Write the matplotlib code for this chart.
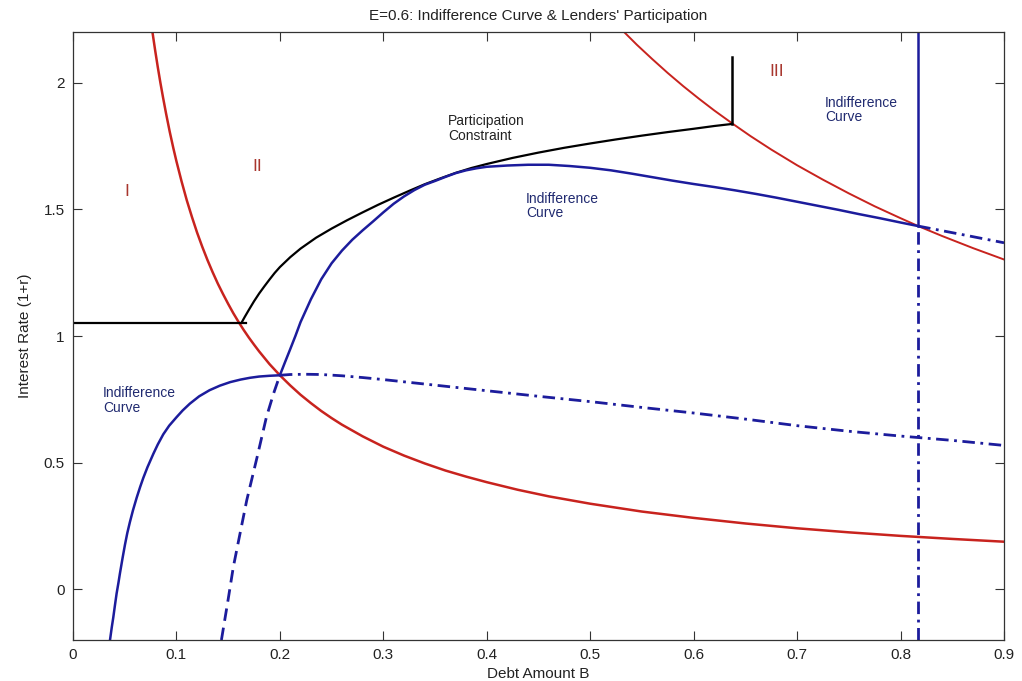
import matplotlib
matplotlib.use("Agg")
import matplotlib.pyplot as plt

plt.rcParams["lines.scale_dashes"] = False

# Lower red boundary (region I / II)
red_low_x = [0.077, 0.0795, 0.082, 0.0845, 0.087, 0.09, 0.0935, 0.097, 0.10, 0.105, 0.11,
             0.115, 0.12, 0.125, 0.13, 0.135, 0.14, 0.145, 0.15, 0.155, 0.16, 0.165, 0.17,
             0.175, 0.18, 0.19, 0.20, 0.21, 0.22, 0.23, 0.24, 0.25, 0.26, 0.28, 0.30, 0.32,
             0.34, 0.36, 0.38, 0.40, 0.43, 0.46, 0.50, 0.55, 0.60, 0.65, 0.70, 0.75, 0.80,
             0.85, 0.90]
red_low_y = [2.195, 2.126, 2.061, 2.0, 1.943, 1.878, 1.807, 1.742, 1.69, 1.61, 1.536,
             1.47, 1.408, 1.352, 1.30, 1.252, 1.207, 1.166, 1.127, 1.09, 1.056, 1.024, 0.994,
             0.966, 0.939, 0.889, 0.845, 0.805, 0.768, 0.735, 0.704, 0.676, 0.65, 0.604,
             0.563, 0.528, 0.497, 0.469, 0.445, 0.423, 0.393, 0.367, 0.338, 0.307, 0.282,
             0.26, 0.241, 0.225, 0.211, 0.199, 0.188]

# Upper red boundary (region III)
red_up_x = [0.532, 0.545, 0.56, 0.575, 0.59, 0.605, 0.62, 0.637, 0.655, 0.675, 0.70, 0.725,
            0.75, 0.775, 0.80, 0.817, 0.84, 0.87, 0.90]
red_up_y = [2.203, 2.15, 2.093, 2.038, 1.986, 1.937, 1.89, 1.84, 1.789, 1.736, 1.674, 1.617,
            1.563, 1.512, 1.465, 1.434, 1.395, 1.347, 1.302]

# Participation constraint
pc_flat_x = [0.0, 0.167]
pc_flat_y = [1.053, 1.053]
pc_x = [0.163, 0.166, 0.17, 0.175, 0.18, 0.185, 0.19, 0.195, 0.20, 0.21, 0.22, 0.235, 0.25,
        0.265, 0.28, 0.295, 0.31, 0.325, 0.34, 0.355, 0.37, 0.385, 0.40, 0.425, 0.45,
        0.475, 0.50, 0.525, 0.55, 0.575, 0.60, 0.62, 0.637]
pc_y = [1.053, 1.075, 1.103, 1.137, 1.168, 1.196, 1.223, 1.249, 1.272, 1.311, 1.345, 1.388,
        1.424, 1.457, 1.488, 1.518, 1.546, 1.573, 1.599, 1.622, 1.644, 1.663, 1.679, 1.703,
        1.724, 1.743, 1.760, 1.776, 1.791, 1.805, 1.818, 1.829, 1.837]
pc_wall_x = [0.637, 0.637]
pc_wall_y = [1.837, 2.103]

# Left indifference curve
ic1_x = [0.0358, 0.0375, 0.039, 0.0405, 0.0422, 0.044, 0.0454, 0.048, 0.0503, 0.0525,
         0.055, 0.058, 0.0616, 0.065, 0.068, 0.072, 0.0777, 0.082, 0.0873, 0.093, 0.10,
         0.106, 0.113, 0.122, 0.132, 0.142, 0.152, 0.162, 0.171, 0.18, 0.19, 0.20]
ic1_y = [-0.20, -0.15, -0.11, -0.065, -0.016, 0.027, 0.063, 0.125, 0.177, 0.222, 0.265,
         0.312, 0.362, 0.405, 0.44, 0.482, 0.535, 0.572, 0.612, 0.646, 0.679, 0.706, 0.733,
         0.762, 0.786, 0.804, 0.818, 0.828, 0.835, 0.84, 0.843, 0.845]
ic1_ext_x = [0.20, 0.21, 0.225, 0.24, 0.26, 0.28, 0.30, 0.35, 0.40, 0.45, 0.50, 0.55, 0.60,
             0.65, 0.70, 0.75, 0.80, 0.85, 0.90]
ic1_ext_y = [0.845, 0.848, 0.849, 0.848, 0.843, 0.836, 0.828, 0.806, 0.784, 0.762, 0.741,
             0.718, 0.696, 0.672, 0.646, 0.624, 0.605, 0.588, 0.568]

# Upper indifference curve
ic2_lo_x = [0.1435, 0.15, 0.155, 0.16, 0.168, 0.178, 0.187, 0.194, 0.20]
ic2_lo_y = [-0.20, -0.04, 0.088, 0.19, 0.352, 0.522, 0.68, 0.774, 0.845]
ic2_x = [0.20, 0.205, 0.21, 0.215, 0.22, 0.23, 0.24, 0.25, 0.26, 0.27, 0.28, 0.29, 0.30,
         0.31, 0.32, 0.33, 0.34, 0.35, 0.36, 0.37, 0.38, 0.39, 0.40, 0.42, 0.44, 0.46,
         0.48, 0.50, 0.52, 0.54, 0.56, 0.58, 0.60, 0.62, 0.64, 0.66, 0.68, 0.70, 0.72,
         0.74, 0.76, 0.78, 0.80, 0.817]
ic2_y = [0.845, 0.897, 0.948, 1.0, 1.055, 1.145, 1.224, 1.287, 1.337, 1.38, 1.417, 1.452,
         1.488, 1.522, 1.551, 1.576, 1.597, 1.612, 1.628, 1.643, 1.654, 1.662, 1.668, 1.673,
         1.676, 1.676, 1.671, 1.664, 1.654, 1.641, 1.627, 1.613, 1.60, 1.588, 1.575, 1.561,
         1.546, 1.530, 1.514, 1.498, 1.481, 1.465, 1.448, 1.434]
ic2_ext_x = [0.817, 0.86, 0.90]
ic2_ext_y = [1.434, 1.40, 1.368]

# Vertical indifference curve
ic3_x = 0.817
ic3_solid_y = [1.434, 2.20]
ic3_dash_y = [-0.20, 1.434]

x_ticks = [0, 0.1, 0.2, 0.3, 0.4, 0.5, 0.6, 0.7, 0.8, 0.9]
x_tick_labels = ["0", "0.1", "0.2", "0.3", "0.4", "0.5", "0.6", "0.7", "0.8", "0.9"]
y_ticks = [0, 0.5, 1, 1.5, 2]
y_tick_labels = ["0", "0.5", "1", "1.5", "2"]

RED = "#c8231e"
BLUE = "#1c1c9c"
DASHDOT = (0, (9, 4, 2, 4))
DASHED = (0, (9, 5))

fig = plt.figure(figsize=(10.22, 6.81), dpi=100)
ax = fig.add_axes([0.0714, 0.0602, 0.9110, 0.8928])

ax.plot(red_low_x, red_low_y, color=RED, lw=1.8)
ax.plot(red_up_x, red_up_y, color=RED, lw=1.4)

ax.plot(pc_flat_x, pc_flat_y, color="black", lw=1.6)
ax.plot(pc_x, pc_y, color="black", lw=1.6)
ax.plot(pc_wall_x, pc_wall_y, color="black", lw=1.8)

ax.plot(ic1_x, ic1_y, color=BLUE, lw=1.8)
ax.plot(ic1_ext_x, ic1_ext_y, color=BLUE, lw=2.0, ls=DASHDOT)

ax.plot(ic2_lo_x, ic2_lo_y, color=BLUE, lw=2.0, ls=DASHED)
ax.plot(ic2_x, ic2_y, color=BLUE, lw=1.8)
ax.plot(ic2_ext_x, ic2_ext_y, color=BLUE, lw=2.0, ls=DASHDOT)

ax.plot([ic3_x, ic3_x], ic3_solid_y, color=BLUE, lw=1.8)
ax.plot([ic3_x, ic3_x], ic3_dash_y, color=BLUE, lw=2.0, ls=DASHDOT)

ax.set_xlim(0, 0.9)
ax.set_ylim(-0.2, 2.2)

font = ["Liberation Sans Narrow", "Liberation Sans", "DejaVu Sans"]
ax.set_xticks(x_ticks)
ax.set_xticklabels(x_tick_labels, family=font, fontsize=11)
ax.set_yticks(y_ticks)
ax.set_yticklabels(y_tick_labels, family=font, fontsize=11)
ax.tick_params(direction="in", length=6.5, width=0.8, top=True, right=True,
               colors="#333333", labelcolor="#222222", pad=6)
for sp in ax.spines.values():
    sp.set_color("#333333")
    sp.set_linewidth(0.9)

ax.set_xlabel("Debt Amount B", family=font, fontsize=11, color="#222222", labelpad=3)
ax.set_ylabel("Interest Rate (1+r)", family=font, fontsize=11, color="#222222", labelpad=8)
ax.set_title("E=0.6: Indifference Curve & Lenders' Participation", family=font,
             fontsize=11, color="#222222", pad=9)

lab = dict(family=["Liberation Sans", "DejaVu Sans"], fontsize=10)
roman = dict(family=["Liberation Sans", "DejaVu Sans"], fontsize=12.5, color="#a8362e",
             ha="center", va="center")
ax.text(0.052, 1.57, "I", **roman)
ax.text(0.178, 1.668, "II", **roman)
ax.text(0.68, 2.045, "III", **roman)
ax.text(0.3625, 1.82, "Participation\nConstraint", color="#222222", ha="left", va="center",
        linespacing=1.05, **lab)
ax.text(0.438, 1.514, "Indifference\nCurve", color="#202a70", ha="left", va="center",
        linespacing=1.05, **lab)
ax.text(0.029, 0.745, "Indifference\nCurve", color="#202a70", ha="left", va="center",
        linespacing=1.05, **lab)
ax.text(0.727, 1.893, "Indifference\nCurve", color="#202a70", ha="left", va="center",
        linespacing=1.05, **lab)

fig.savefig("out.png", dpi=100)
